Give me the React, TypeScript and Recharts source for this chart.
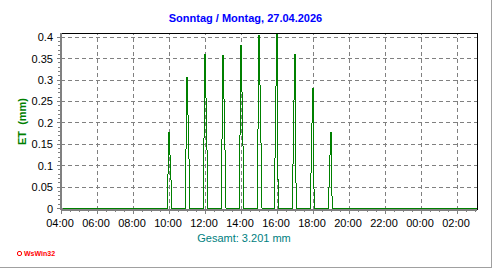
import React from 'react';
import { Line, LineChart, ReferenceLine, XAxis, YAxis } from 'recharts';

const TITLE = 'Sonntag / Montag, 27.04.2026';
const TOTAL_LABEL = 'Gesamt: 3.201 mm';
const Y_LABEL = 'ET  (mm)';

// hours on the time axis (24+ = next day)
const X_MAJOR = [4, 6, 8, 10, 12, 14, 16, 18, 20, 22, 24, 26];
const X_LABELS = ['04:00', '06:00', '08:00', '10:00', '12:00', '14:00', '16:00', '18:00', '20:00', '22:00', '00:00', '02:00'];
const Y_MAJOR = [0, 0.05, 0.1, 0.15, 0.2, 0.25, 0.3, 0.35, 0.4];
const Y_LABELS = ['0', '0.05', '0.1', '0.15', '0.2', '0.25', '0.3', '0.35', '0.4'];

const X_START = 4;
const X_END = 27.11;
const Y_MIN = -0.0035; // keeps the zero line just above the grey axis
const Y_MAX = 0.41;

// ET peaks around each full hour, minute offsets relative to the hour
const clusterHours = [10, 11, 12, 13, 14, 15, 16, 17, 18, 19];
const earlyOffsets = [-6, -3, 0, 3, 8, 10];
const lateOffsets = [-9, -7, -3, 0, 2, 4];
const clusterET = [
  [0, 0.089, 0.179, 0.132, 0.043, 0],
  [0, 0.153, 0.307, 0.229, 0.075, 0],
  [0, 0.181, 0.362, 0.27, 0.09, 0],
  [0, 0.179, 0.358, 0.266, 0.089, 0],
  [0, 0.19, 0.381, 0.285, 0.095, 0],
  [0, 0.204, 0.406, 0.303, 0.101, 0],
  [0, 0.101, 0.303, 0.408, 0.202, 0],
  [0, 0.089, 0.268, 0.36, 0.179, 0],
  [0, 0.07, 0.211, 0.281, 0.14, 0],
  [0, 0.044, 0.134, 0.179, 0.088, 0],
];

const data: { t: number; et: number }[] = [{ t: X_START, et: 0 }];
clusterHours.forEach((h, i) => {
  const offs = h < 16 ? earlyOffsets : lateOffsets;
  clusterET[i].forEach((v, j) => data.push({ t: h + offs[j] / 60, et: v }));
});
data.push({ t: X_END, et: 0 });

// minor tick marks (axis decoration only)
const xMinor = Array.from({ length: 47 }, (_, i) => 4 + i * 0.5);
const yMinor = Array.from({ length: 41 }, (_, i) => i / 100);

const FONT = '"Liberation Sans", Arial, sans-serif';
const AXIS_GRAY = '#808080';

function findMajor(list: number[], v: number) {
  return list.findIndex((m) => Math.abs(m - v) < 1e-6);
}

function YTick(props: any) {
  const { x, y, payload } = props;
  const idx = findMajor(Y_MAJOR, payload.value);
  const major = idx >= 0;
  return (
    <g>
      <line x1={major ? x - 4 : x - 3} x2={major ? x + 2 : x} y1={y} y2={y} stroke={AXIS_GRAY} />
      {major && (
        <text x={x - 8} y={y + 4} textAnchor="end" fontFamily={FONT} fontSize={11} fill="#000">
          {Y_LABELS[idx]}
        </text>
      )}
    </g>
  );
}

function XTick(props: any) {
  const { x, y, payload } = props;
  const idx = findMajor(X_MAJOR, payload.value);
  const major = idx >= 0;
  return (
    <g>
      <line x1={x} x2={x} y1={y} y2={y + (major ? 4 : 2)} stroke={AXIS_GRAY} />
      {major && (
        <text x={x - 1} y={y + 17} textAnchor="middle" fontFamily={FONT} fontSize={11} fill="#000">
          {X_LABELS[idx]}
        </text>
      )}
    </g>
  );
}

export default function App() {
  return (
    <div style={{ position: 'relative', width: 492, height: 268, background: '#fff', fontFamily: FONT }}>
      <style>{`body{margin:0} .recharts-surface line, .recharts-surface path{shape-rendering:crispEdges}`}</style>
      <div
        style={{
          position: 'absolute',
          left: 0,
          top: 0,
          width: 492,
          height: 268,
          boxSizing: 'border-box',
          borderRight: '1px solid #a0a0a0',
          borderBottom: '1px solid #a0a0a0',
        }}
      />
      <div
        style={{
          position: 'absolute',
          left: 0,
          width: 491,
          top: 12,
          textAlign: 'center',
          fontSize: 11,
          fontWeight: 'bold',
          lineHeight: '13px',
          color: '#0000ff',
        }}
      >
        {TITLE}
      </div>
      <div
        style={{
          position: 'absolute',
          left: 22 - 30,
          top: 122 - 7,
          width: 60,
          textAlign: 'center',
          fontSize: 11,
          fontWeight: 'bold',
          lineHeight: '13px',
          color: '#008000',
          whiteSpace: 'pre',
          transform: 'rotate(-90deg)',
        }}
      >
        {Y_LABEL}
      </div>
      <div
        style={{
          position: 'absolute',
          left: 0,
          width: 488,
          top: 232,
          textAlign: 'center',
          fontSize: 11,
          lineHeight: '13px',
          color: '#008080',
        }}
      >
        {TOTAL_LABEL}
      </div>
      <div
        style={{
          position: 'absolute',
          left: 17,
          top: 249,
          fontSize: 7,
          fontWeight: 'bold',
          lineHeight: '9px',
          color: '#ff0000',
          display: 'flex',
          alignItems: 'center',
          gap: 2,
        }}
      >
        <span
          style={{ display: 'inline-block', width: 3, height: 3, borderRadius: 2, border: '1px solid #ff0000' }}
        />
        <span>WsWin32</span>
      </div>
      <div style={{ position: 'absolute', left: 0, top: 0 }}>
        <LineChart width={492} height={268} data={data} margin={{ top: 33, right: 15, left: 0, bottom: 0 }}>
          <XAxis
            type="number"
            dataKey="t"
            domain={[X_START, X_END]}
            allowDataOverflow
            ticks={xMinor}
            interval={0}
            tickSize={0}
            tickMargin={0}
            tick={<XTick />}
            height={58}
            axisLine={{ stroke: AXIS_GRAY, strokeWidth: 2 }}
          />
          <YAxis
            type="number"
            domain={[Y_MIN, Y_MAX]}
            allowDataOverflow
            ticks={yMinor}
            interval={0}
            tickSize={0}
            tickMargin={0}
            tick={<YTick />}
            width={61}
            axisLine={{ stroke: AXIS_GRAY, strokeWidth: 2 }}
          />
          {Y_MAJOR.slice(1).map((v) => (
            <ReferenceLine key={'y' + v} y={v} stroke={AXIS_GRAY} strokeDasharray="4 3" />
          ))}
          {X_MAJOR.slice(1).map((v) => (
            <ReferenceLine key={'x' + v} x={v} stroke={AXIS_GRAY} strokeDasharray="4 3" />
          ))}
          <ReferenceLine y={Y_MAX} stroke="#000" />
          <ReferenceLine x={X_END} stroke="#000" />
          <Line
            type="linear"
            dataKey="et"
            stroke="#008000"
            strokeWidth={1}
            dot={false}
            activeDot={false}
            isAnimationActive={false}
          />
        </LineChart>
      </div>
    </div>
  );
}
